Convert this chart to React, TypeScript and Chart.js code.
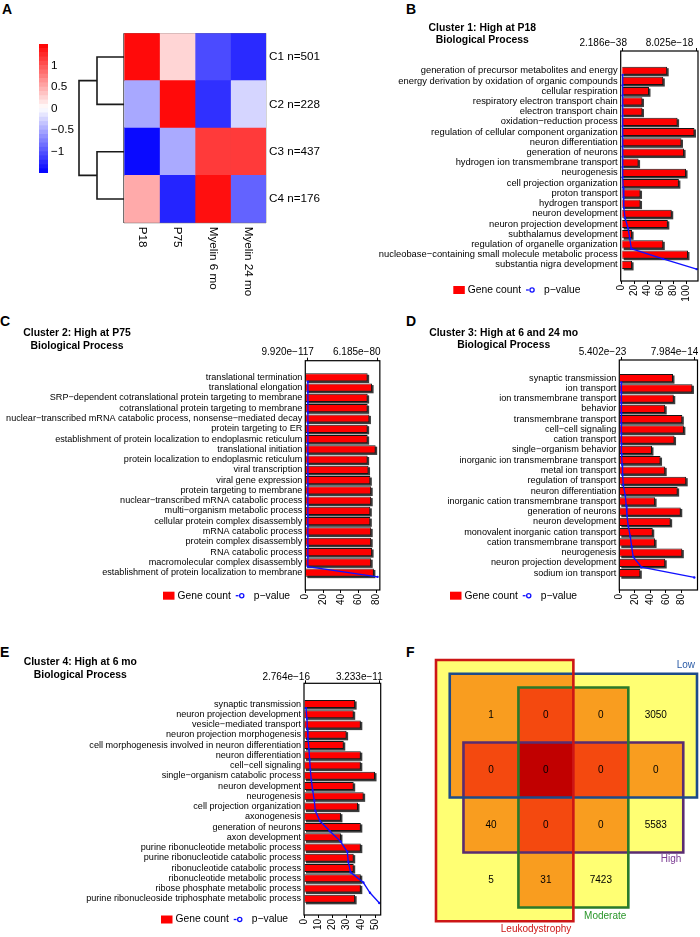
import React, { useEffect, useRef } from 'react';
import { Chart, registerables } from 'chart.js';

Chart.register(...registerables);

const FONT = "'Liberation Sans', Arial, Helvetica, sans-serif";
Chart.defaults.font.family = FONT;
Chart.defaults.color = '#000';
const MINUS = '\u2212';

// ---------------- Panel A data ----------------
const heatRowLabels = ['C1 n=501', 'C2 n=228', 'C3 n=437', 'C4 n=176'];
const heatColLabels = ['P18', 'P75', 'Myelin 6 mo', 'Myelin 24 mo'];
const heatC1 = [1.44, 0.25, -1.06, -1.25];
const heatC2 = [-0.51, 1.44, -1.22, -0.25];
const heatC3 = [-1.44, -0.5, 1.16, 1.16];
const heatC4 = [0.5, -1.29, 1.41, -0.92];
const heatValues = [heatC1, heatC2, heatC3, heatC4];
const colorbarTicks = [1, 0.5, 0, -0.5, -1];
const colorbarMin = -1.5;
const colorbarMax = 1.5;
const colorbarBins = 30;
const dendroPairHeights = [2.4, 2.4]; // (C1,C2) and (C3,C4)
const dendroRootHeight = 4;

// ---------------- Panel B data ----------------
const bTitle = ['Cluster 1: High at P18', 'Biological Process'];
const bCategories = [
  'generation of precursor metabolites and energy',
  'energy derivation by oxidation of organic compounds',
  'cellular respiration',
  'respiratory electron transport chain',
  'electron transport chain',
  'oxidation\u2212reduction process',
  'regulation of cellular component organization',
  'neuron differentiation',
  'generation of neurons',
  'hydrogen ion transmembrane transport',
  'neurogenesis',
  'cell projection organization',
  'proton transport',
  'hydrogen transport',
  'neuron development',
  'neuron projection development',
  'subthalamus development',
  'regulation of organelle organization',
  'nucleobase\u2212containing small molecule metabolic process',
  'substantia nigra development',
];
const bGeneCounts = [70, 64, 42, 32, 32, 86, 112, 92, 96, 26, 99, 88, 29, 29, 77, 71, 16, 64, 102, 16];
const bPValues = [2.186e-38, 5.3e-36, 1.1e-33, 4.2e-31, 9.8e-31, 3.6e-29, 2.2e-27, 8.9e-26, 3.0e-24, 6.4e-23,
  1.9e-21, 4.7e-20, 1.0e-19, 1.4e-19, 2.6e-19, 5.8e-19, 7.6e-19, 9.4e-19, 4.37e-18, 8.025e-18];
const bCountTicks = [0, 20, 40, 60, 80, 100];

// ---------------- Panel C data ----------------
const cTitle = ['Cluster 2: High at P75', 'Biological Process'];
const cCategories = [
  'translational termination',
  'translational elongation',
  'SRP\u2212dependent cotranslational protein targeting to membrane',
  'cotranslational protein targeting to membrane',
  'nuclear\u2212transcribed mRNA catabolic process, nonsense\u2212mediated decay',
  'protein targeting to ER',
  'establishment of protein localization to endoplasmic reticulum',
  'translational initiation',
  'protein localization to endoplasmic reticulum',
  'viral transcription',
  'viral gene expression',
  'protein targeting to membrane',
  'nuclear\u2212transcribed mRNA catabolic process',
  'multi\u2212organism metabolic process',
  'cellular protein complex disassembly',
  'mRNA catabolic process',
  'protein complex disassembly',
  'RNA catabolic process',
  'macromolecular complex disassembly',
  'establishment of protein localization to membrane',
];
const cGeneCounts = [70, 75, 70, 70, 72, 70, 70, 79, 70, 71, 73, 74, 74, 73, 73, 74, 74, 75, 74, 77];
const cPValues = [9.920e-117, 2.1e-115, 4.7e-114, 1.3e-113, 6.0e-112, 2.2e-111, 8.4e-110, 3.1e-108, 7.5e-107, 2.6e-105,
  9.1e-104, 4.4e-102, 1.7e-100, 6.3e-98, 2.9e-95, 1.1e-92, 5.6e-90, 3.2e-87, 1.4e-84, 6.185e-80];
const cCountTicks = [0, 20, 40, 60, 80];

// ---------------- Panel D data ----------------
const dTitle = ['Cluster 3: High at 6 and 24 mo', 'Biological Process'];
const dCategories = [
  'synaptic transmission',
  'ion transport',
  'ion transmembrane transport',
  'behavior',
  'transmembrane transport',
  'cell\u2212cell signaling',
  'cation transport',
  'single\u2212organism behavior',
  'inorganic ion transmembrane transport',
  'metal ion transport',
  'regulation of transport',
  'neuron differentiation',
  'inorganic cation transmembrane transport',
  'generation of neurons',
  'neuron development',
  'monovalent inorganic cation transport',
  'cation transmembrane transport',
  'neurogenesis',
  'neuron projection development',
  'sodium ion transport',
];
const dGeneCounts = [69, 94, 70, 59, 81, 83, 71, 42, 53, 59, 86, 75, 46, 79, 66, 43, 46, 81, 59, 27];
const dPValues = [5.402e-23, 3.1e-21, 8.7e-20, 1.9e-18, 2.6e-17, 1.5e-16, 3.9e-16, 6.8e-16, 1.04e-15, 1.44e-15,
  2.16e-15, 4.39e-15, 5.43e-15, 6.23e-15, 7.66e-15, 9.82e-15, 1.134e-14, 1.309e-14, 2.22e-14, 7.984e-14];
const dCountTicks = [0, 20, 40, 60, 80];

// ---------------- Panel E data ----------------
const eTitle = ['Cluster 4: High at 6 mo', 'Biological Process'];
const eCategories = [
  'synaptic transmission',
  'neuron projection development',
  'vesicle\u2212mediated transport',
  'neuron projection morphogenesis',
  'cell morphogenesis involved in neuron differentiation',
  'neuron differentiation',
  'cell\u2212cell signaling',
  'single\u2212organism catabolic process',
  'neuron development',
  'neurogenesis',
  'cell projection organization',
  'axonogenesis',
  'generation of neurons',
  'axon development',
  'purine ribonucleotide metabolic process',
  'purine ribonucleotide catabolic process',
  'ribonucleotide catabolic process',
  'ribonucleotide metabolic process',
  'ribose phosphate metabolic process',
  'purine ribonucleoside triphosphate metabolic process',
];
const eGeneCounts = [36, 35, 40, 30, 28, 40, 40, 50, 35, 42, 38, 26, 40, 26, 40, 35, 35, 40, 40, 36];
const ePValues = [2.764e-16, 4.4e-13, 5.9e-13, 8.8e-13, 1.32e-12, 1.62e-12, 1.91e-12, 2.35e-12, 2.94e-12, 3.67e-12,
  4.11e-12, 6.17e-12, 1.058e-11, 1.528e-11, 1.823e-11, 1.867e-11, 1.969e-11, 2.528e-11, 2.822e-11, 3.233e-11];
const eCountTicks = [0, 10, 20, 30, 40, 50];

const legendGene = 'Gene count';
const legendP = 'p\u2212value';

// ---------------- Panel F data ----------------
const vennSetNames = ['Leukodystrophy', 'Low', 'Moderate', 'High'];
const vennRow1 = [1, 0, 0, 3050];
const vennRow2 = [0, 0, 0, 0];
const vennRow3 = [40, 0, 0, 5583];
const vennRow4 = [5, 31, 7423, null];
const vennCounts = [vennRow1, vennRow2, vennRow3, vennRow4];

// ---------------- layout / style ----------------
type Rect = { x: number; y: number; w: number; h: number };
const LINE_SHIFT = 0.42;

// set rectangles in diagram units [x0, y0, x1, y1]
const VENN_RECTS: Record<string, number[]> = {
  Leukodystrophy: [0, 0, 2.5, 4.75],
  Low: [0.25, 0.25, 4.75, 2.5],
  Moderate: [1.5, 0.5, 3.5, 4.5],
  High: [0.5, 1.5, 4.5, 3.5],
};
const VENN_EXTENT = 4.75;
const VENN_LINE: Record<string, string> = {
  Leukodystrophy: '#cc1616', Low: '#1d4b8a', Moderate: '#2a7a2a', High: '#5a2c70',
};
const VENN_TEXT: Record<string, string> = {
  Leukodystrophy: '#cc1616', Low: '#2a5ba6', Moderate: '#2a962a', High: '#7a3a92',
};
const VENN_LABEL_DY: Record<string, number> = { Leukodystrophy: 8.3, Low: -9, Moderate: 8.3, High: 6.6 };
const VENN_FILLS = ['#ffff73', '#f99d1f', '#f4490f', '#c10000'];

function heatColor(v: number) {
  const t = Math.min(1, Math.abs(v) / 1.5);
  const c = Math.round(255 * (1 - t));
  return v >= 0 ? `rgb(255,${c},${c})` : `rgb(${c},${c},255)`;
}
function fmtP(v: number) {
  return v.toExponential(3).replace('-', MINUS);
}
function fmtSigned(v: number) {
  return v < 0 ? MINUS + String(Math.abs(v)) : String(v);
}

// ---------------- Panel A: heatmap ----------------
const HEAT_CANVAS: Rect = { x: 100, y: 20, w: 240, h: 290 };
const HEAT_AREA = { x0: 124, y0: 33.3, x1: 266, y1: 222.7 };

function heatConfig(): any {
  const c = HEAT_CANVAS, a = HEAT_AREA;
  const colPlugin = {
    id: 'heatCols',
    afterDraw(chart: any) {
      const { ctx, chartArea, scales } = chart;
      ctx.save();
      ctx.font = `11.7px ${FONT}`;
      ctx.fillStyle = '#000';
      ctx.textAlign = 'left';
      ctx.textBaseline = 'middle';
      heatColLabels.forEach((lab, j) => {
        const px = scales.x.getPixelForValue(j + 0.5);
        ctx.save();
        ctx.translate(px, chartArea.bottom + 4);
        ctx.rotate(Math.PI / 2);
        ctx.fillText(lab, 0, 0);
        ctx.restore();
      });
      ctx.restore();
    },
  };
  return {
    type: 'bar',
    data: {
      labels: heatRowLabels,
      datasets: heatColLabels.map((col, j) => ({
        label: col,
        data: heatRowLabels.map(() => [j, j + 1]),
        backgroundColor: heatValues.map((row) => heatColor(row[j])),
        borderWidth: 0,
        grouped: false,
        barPercentage: 1,
        categoryPercentage: 1,
      })),
    },
    options: {
      indexAxis: 'y',
      responsive: false,
      maintainAspectRatio: false,
      animation: false,
      events: [],
      layout: { padding: { left: a.x0 - c.x, top: a.y0 - c.y, right: 0, bottom: c.y + c.h - a.y1 } },
      plugins: { legend: { display: false }, tooltip: { enabled: false } },
      scales: {
        x: {
          type: 'linear', min: 0, max: heatColLabels.length, position: 'bottom', z: 1,
          ticks: { display: false, stepSize: 1 },
          grid: { display: true, drawTicks: false, color: '#727272', lineWidth: 1.3 },
          border: { display: false },
          afterFit: (s: any) => { s.height = 0; },
        },
        y: {
          type: 'category', position: 'right', offset: true, z: 1,
          ticks: { padding: 3, color: '#000', font: { size: 11.7 } },
          grid: { display: true, offset: true, drawTicks: false, color: '#727272', lineWidth: 1.3 },
          border: { display: false },
          afterFit: (s: any) => { s.width = c.x + c.w - a.x1; },
        },
      },
    },
    plugins: [colPlugin],
  };
}

const CBAR_CANVAS: Rect = { x: 30, y: 30, w: 70, h: 155 };
const CBAR_AREA = { x0: 39, y0: 44, x1: 48, y1: 173 };

function colorbarConfig(): any {
  const c = CBAR_CANVAS, a = CBAR_AREA;
  const step = (colorbarMax - colorbarMin) / colorbarBins;
  const bins: number[][] = [];
  for (let k = 0; k < colorbarBins; k++) bins.push([colorbarMin + k * step, colorbarMin + (k + 1) * step]);
  return {
    type: 'bar',
    data: {
      labels: [''],
      datasets: bins.map(([lo, hi]) => ({
        data: [[lo, hi]],
        backgroundColor: heatColor((lo + hi) / 2),
        borderWidth: 0,
        grouped: false,
        barPercentage: 1,
        categoryPercentage: 1,
      })),
    },
    options: {
      responsive: false, maintainAspectRatio: false, animation: false, events: [],
      layout: { padding: { left: a.x0 - c.x, top: a.y0 - c.y, right: 0, bottom: c.y + c.h - a.y1 } },
      plugins: { legend: { display: false }, tooltip: { enabled: false } },
      scales: {
        x: { display: false },
        y: {
          type: 'linear', position: 'right', min: colorbarMin, max: colorbarMax,
          afterBuildTicks: (s: any) => { s.ticks = colorbarTicks.map((v) => ({ value: v })); },
          afterFit: (s: any) => { s.width = c.x + c.w - a.x1; },
          ticks: { padding: 3, color: '#000', font: { size: 11.7 }, callback: (v: any) => fmtSigned(Number(v)) },
          grid: { display: false, drawTicks: false },
          border: { display: false },
        },
      },
    },
  };
}

const DENDRO_CANVAS: Rect = { x: 70, y: 23, w: 60, h: 210 };
const DENDRO_AREA = { x0: 79, y0: 33.3, x1: 124, y1: 222.7 };

function dendroConfig(): any {
  const c = DENDRO_CANVAS, a = DENDRO_AREA;
  const [h12, h34] = dendroPairHeights;
  const hr = dendroRootHeight;
  const leaf = (i: number) => i + 0.5;
  const segs = [
    [{ x: 0, y: leaf(0) }, { x: h12, y: leaf(0) }, { x: h12, y: leaf(1) }, { x: 0, y: leaf(1) }],
    [{ x: 0, y: leaf(2) }, { x: h34, y: leaf(2) }, { x: h34, y: leaf(3) }, { x: 0, y: leaf(3) }],
    [
      { x: h12, y: (leaf(0) + leaf(1)) / 2 }, { x: hr, y: (leaf(0) + leaf(1)) / 2 },
      { x: hr, y: (leaf(2) + leaf(3)) / 2 }, { x: h34, y: (leaf(2) + leaf(3)) / 2 },
    ],
  ];
  return {
    type: 'scatter',
    data: {
      datasets: segs.map((d) => ({
        data: d, showLine: true, borderColor: '#1a1a1a', borderWidth: 1.6, pointRadius: 0,
        clip: false, tension: 0, borderJoinStyle: 'miter',
      })),
    },
    options: {
      responsive: false, maintainAspectRatio: false, animation: false, events: [],
      layout: { padding: { left: a.x0 - c.x, top: a.y0 - c.y, right: c.x + c.w - a.x1, bottom: c.y + c.h - a.y1 } },
      plugins: { legend: { display: false }, tooltip: { enabled: false } },
      scales: {
        x: { type: 'linear', min: 0, max: hr, reverse: true, display: false },
        y: { type: 'linear', min: 0, max: heatRowLabels.length, reverse: true, display: false },
      },
    },
  };
}

// ---------------- GO bar panels ----------------
type GoPanel = {
  cats: string[]; counts: number[]; pvals: number[]; countTicks: number[];
  countMin: number; countMax: number;
  canvas: Rect; box: { x0: number; y0: number; x1: number; y1: number };
  rowRange: number[]; pPad: number[];
  title: string[]; titlePos: { x: number; y0: number; y1: number };
  legendPos: { x: number; y: number }; labelSize: number;
  pLabelDx: number[]; pLabelDy: number;
};

const PANEL_B: GoPanel = {
  cats: bCategories, counts: bGeneCounts, pvals: bPValues, countTicks: bCountTicks,
  countMin: -1.5, countMax: 117.4,
  canvas: { x: 350, y: 0, w: 350, h: 312 }, box: { x0: 620.7, y0: 51, x1: 698, y1: 281 },
  rowRange: [-0.37, 21.02], pPad: [0.027, 0.018],
  title: bTitle, titlePos: { x: 482.3, y0: 27.7, y1: 40.3 },
  legendPos: { x: 453.3, y: 290 }, labelSize: 9.4,
  pLabelDx: [4.3, -3.4], pLabelDy: -7.7,
};
const PANEL_C: GoPanel = {
  cats: cCategories, counts: cGeneCounts, pvals: cPValues, countTicks: cCountTicks,
  countMin: 0, countMax: 83.7,
  canvas: { x: 0, y: 300, w: 390, h: 312 }, box: { x0: 305.3, y0: 360.7, x1: 382.7, y1: 590 },
  rowRange: [-0.07, 21.14], pPad: [0.037, 0.033],
  title: cTitle, titlePos: { x: 77, y0: 333.3, y1: 345.7 },
  legendPos: { x: 163, y: 595.7 }, labelSize: 9.1,
  pLabelDx: [6, 3], pLabelDy: -8.5,
};
const PANEL_D: GoPanel = {
  cats: dCategories, counts: dGeneCounts, pvals: dPValues, countTicks: dCountTicks,
  countMin: 0, countMax: 100.5,
  canvas: { x: 350, y: 300, w: 350, h: 312 }, box: { x0: 619.3, y0: 360, x1: 697.5, y1: 590 },
  rowRange: [-0.2, 21.08], pPad: [0.027, 0.044],
  title: dTitle, titlePos: { x: 503.7, y0: 333.3, y1: 345 },
  legendPos: { x: 450, y: 595.7 }, labelSize: 9.15,
  pLabelDx: [5, 4], pLabelDy: -7.5,
};
const PANEL_E: GoPanel = {
  cats: eCategories, counts: eGeneCounts, pvals: ePValues, countTicks: eCountTicks,
  countMin: 0, countMax: 54,
  canvas: { x: 0, y: 600, w: 390, h: 337 }, box: { x0: 304, y0: 683.3, x1: 380.7, y1: 915 },
  rowRange: [-0.455, 21.02], pPad: [0.027, 0.019],
  title: eTitle, titlePos: { x: 80.3, y0: 662.3, y1: 675 },
  legendPos: { x: 161, y: 919.5 }, labelSize: 9.1,
  pLabelDx: [4, 3.4], pLabelDy: -6.3,
};

const barShadowPlugin = {
  id: 'barShadow',
  beforeDatasetDraw(chart: any, args: any) {
    const meta = args.meta;
    if (meta.type !== 'bar') return;
    const ctx = chart.ctx;
    ctx.save();
    ctx.fillStyle = '#3c3c3c';
    meta.data.forEach((el: any) => {
      const { x, y, base, height } = el.getProps(['x', 'y', 'base', 'height'], true);
      const left = Math.min(x, base);
      const w = Math.abs(x - base);
      ctx.fillRect(left + 1.5, y - height / 2 + 1.5, w, height);
    });
    ctx.restore();
  },
};

const boxPlugin = {
  id: 'plotBox',
  afterDatasetsDraw(chart: any) {
    const { ctx, chartArea: a } = chart;
    ctx.save();
    ctx.strokeStyle = '#000';
    ctx.lineWidth = 1.2;
    ctx.strokeRect(a.left, a.top, a.right - a.left, a.bottom - a.top);
    ctx.restore();
  },
};

function goConfig(p: GoPanel): any {
  const c = p.canvas, b = p.box;
  const left = b.x0 - c.x, top = b.y0 - c.y, bottom = c.y + c.h - b.y1, right = c.x + c.w - b.x1;
  const pmin = Math.min(...p.pvals), pmax = Math.max(...p.pvals), pr = pmax - pmin;

  const decor = {
    id: 'goDecor',
    afterDraw(chart: any) {
      const ctx = chart.ctx;
      const x2 = chart.scales.x2;
      ctx.save();
      // title
      ctx.fillStyle = '#000';
      ctx.textAlign = 'center';
      ctx.textBaseline = 'middle';
      ctx.font = `bold 10.4px ${FONT}`;
      ctx.fillText(p.title[0], p.titlePos.x - c.x, p.titlePos.y0 - c.y);
      ctx.fillText(p.title[1], p.titlePos.x - c.x, p.titlePos.y1 - c.y);
      // top axis (p-value) labels
      ctx.font = `10px ${FONT}`;
      ctx.textAlign = 'right';
      [pmin, pmax].forEach((v, k) => {
        ctx.fillText(fmtP(v), x2.getPixelForValue(v) + p.pLabelDx[k], top + p.pLabelDy);
      });
      // legend
      const lx = p.legendPos.x - c.x, ly = p.legendPos.y - c.y;
      ctx.fillStyle = '#ff0000';
      ctx.fillRect(lx, ly - 4, 11.5, 8);
      ctx.fillStyle = '#000';
      ctx.textAlign = 'left';
      ctx.font = `10.3px ${FONT}`;
      const t1 = lx + 14.5;
      ctx.fillText(legendGene, t1, ly);
      const dx = t1 + ctx.measureText(legendGene).width + 5;
      ctx.strokeStyle = '#1010ff';
      ctx.lineWidth = 1.3;
      ctx.beginPath(); ctx.moveTo(dx, ly); ctx.lineTo(dx + 2.8, ly); ctx.stroke();
      ctx.beginPath(); ctx.arc(dx + 6, ly, 2.1, 0, Math.PI * 2); ctx.stroke();
      ctx.fillText(legendP, dx + 18, ly);
      ctx.restore();
    },
  };

  return {
    type: 'bar',
    data: {
      datasets: [
        {
          type: 'line', label: legendP, indexAxis: 'y', xAxisID: 'x2', yAxisID: 'y',
          data: p.pvals.map((v, i) => ({ x: v, y: i + 1 + LINE_SHIFT })),
          borderColor: '#1010ff', backgroundColor: '#1010ff', borderWidth: 1.3,
          pointRadius: 1.2, pointBorderWidth: 0, pointHoverRadius: 0,
          order: 0, clip: false, tension: 0, fill: false,
        },
        {
          type: 'bar', label: legendGene, xAxisID: 'x', yAxisID: 'y',
          data: p.counts.map((v, i) => ({ x: v, y: i + 1 })),
          backgroundColor: '#ff0000', borderColor: '#151515', borderWidth: 1,
          barPercentage: 0.8, categoryPercentage: 1, order: 1,
        },
      ],
    },
    options: {
      indexAxis: 'y', responsive: false, maintainAspectRatio: false, animation: false, events: [],
      layout: { padding: { left: 0, top: 0, right, bottom: 0 } },
      plugins: { legend: { display: false }, tooltip: { enabled: false } },
      scales: {
        y: {
          type: 'linear', position: 'left', reverse: true, min: p.rowRange[0], max: p.rowRange[1],
          afterBuildTicks: (s: any) => { s.ticks = p.cats.map((_, i) => ({ value: i + 1 })); },
          afterFit: (s: any) => { s.width = left; },
          ticks: {
            autoSkip: false, padding: 3, color: '#000', font: { size: p.labelSize },
            callback: (v: any) => p.cats[Math.round(Number(v)) - 1] ?? '',
          },
          grid: { display: false, drawTicks: false },
          border: { display: false },
        },
        x: {
          type: 'linear', position: 'bottom', min: p.countMin, max: p.countMax,
          afterBuildTicks: (s: any) => { s.ticks = p.countTicks.map((v) => ({ value: v })); },
          afterFit: (s: any) => { s.height = bottom; },
          ticks: {
            autoSkip: false, minRotation: 90, maxRotation: 90, padding: 1, color: '#000',
            font: { size: 10 }, callback: (v: any) => String(v),
          },
          grid: { display: true, drawOnChartArea: false, drawTicks: true, tickLength: 3, color: '#000', lineWidth: 1 },
          border: { display: false },
        },
        x2: {
          type: 'linear', position: 'top', min: pmin - p.pPad[0] * pr, max: pmax + p.pPad[1] * pr,
          afterBuildTicks: (s: any) => { s.ticks = [{ value: pmin }, { value: pmax }]; },
          afterFit: (s: any) => { s.height = top; },
          ticks: { display: false },
          grid: { display: true, drawOnChartArea: false, drawTicks: true, tickLength: 3, color: '#000', lineWidth: 1 },
          border: { display: false },
        },
      },
    },
    plugins: [barShadowPlugin, boxPlugin, decor],
  };
}

// ---------------- Panel F: rectangle Venn ----------------
const VENN_CANVAS: Rect = { x: 420, y: 640, w: 280, h: 297 };
const VENN_AREA = { x0: 436, y0: 660, x1: 697, y1: 921.25 };

function vennConfig(): any {
  const c = VENN_CANVAS, a = VENN_AREA;
  const rects = vennSetNames.map((n) => VENN_RECTS[n]);
  const plugin = {
    id: 'vennDecor',
    beforeDatasetsDraw(chart: any) {
      const { ctx, scales } = chart;
      const xs = Array.from(new Set(rects.flatMap((r) => [r[0], r[2]]))).sort((p, q) => p - q);
      const ys = Array.from(new Set(rects.flatMap((r) => [r[1], r[3]]))).sort((p, q) => p - q);
      ctx.save();
      for (let i = 0; i < xs.length - 1; i++) {
        for (let j = 0; j < ys.length - 1; j++) {
          const cx = (xs[i] + xs[i + 1]) / 2, cy = (ys[j] + ys[j + 1]) / 2;
          const n = rects.filter((r) => cx > r[0] && cx < r[2] && cy > r[1] && cy < r[3]).length;
          if (!n) continue;
          const px0 = Math.round(scales.x.getPixelForValue(xs[i]));
          const px1 = Math.round(scales.x.getPixelForValue(xs[i + 1]));
          const py0 = Math.round(scales.y.getPixelForValue(ys[j]));
          const py1 = Math.round(scales.y.getPixelForValue(ys[j + 1]));
          ctx.fillStyle = VENN_FILLS[n - 1];
          ctx.fillRect(px0, py0, px1 - px0, py1 - py0);
        }
      }
      ctx.restore();
    },
    afterDatasetsDraw(chart: any) {
      const { ctx, scales } = chart;
      ctx.save();
      ctx.font = `10px ${FONT}`;
      ctx.fillStyle = '#000';
      ctx.textAlign = 'center';
      ctx.textBaseline = 'middle';
      vennCounts.forEach((row, r) => {
        row.forEach((v, col) => {
          if (v === null || v === undefined) return;
          ctx.fillText(String(v), scales.x.getPixelForValue(col + 1), scales.y.getPixelForValue(r + 1));
        });
      });
      ctx.textAlign = 'right';
      vennSetNames.forEach((name) => {
        const r = VENN_RECTS[name];
        const dy = VENN_LABEL_DY[name];
        const yEdge = dy < 0 ? r[1] : r[3];
        ctx.fillStyle = VENN_TEXT[name];
        ctx.fillText(name, scales.x.getPixelForValue(r[2]) - 2, scales.y.getPixelForValue(yEdge) + dy);
      });
      ctx.restore();
    },
  };
  return {
    type: 'scatter',
    data: {
      datasets: vennSetNames.map((name) => {
        const r = VENN_RECTS[name];
        return {
          label: name,
          data: [
            { x: r[0], y: r[1] }, { x: r[2], y: r[1] }, { x: r[2], y: r[3] },
            { x: r[0], y: r[3] }, { x: r[0], y: r[1] },
          ],
          showLine: true, borderColor: VENN_LINE[name], borderWidth: 2.6, pointRadius: 0,
          clip: false, tension: 0, borderCapStyle: 'square', borderJoinStyle: 'miter',
        };
      }),
    },
    options: {
      responsive: false, maintainAspectRatio: false, animation: false, events: [],
      layout: { padding: { left: a.x0 - c.x, top: a.y0 - c.y, right: c.x + c.w - a.x1, bottom: c.y + c.h - a.y1 } },
      plugins: { legend: { display: false }, tooltip: { enabled: false } },
      scales: {
        x: { type: 'linear', min: 0, max: VENN_EXTENT, display: false },
        y: { type: 'linear', min: 0, max: VENN_EXTENT, reverse: true, display: false },
      },
    },
    plugins: [plugin],
  };
}

// ---------------- components ----------------
function ChartBox({ rect, make }: { rect: Rect; make: () => any }) {
  const ref = useRef<HTMLCanvasElement | null>(null);
  useEffect(() => {
    if (!ref.current) return;
    const chart = new Chart(ref.current, make());
    return () => chart.destroy();
  }, []);
  return (
    <canvas
      ref={ref}
      width={rect.w}
      height={rect.h}
      style={{ position: 'absolute', left: rect.x, top: rect.y, width: rect.w, height: rect.h }}
    />
  );
}

const PANEL_LETTERS: [string, number, number][] = [
  ['A', 2, 1.5], ['B', 406, 1.5], ['C', 0, 314.3], ['D', 406, 313.5], ['E', 0, 645], ['F', 406, 645],
];

export default function App() {
  return (
    <div style={{ position: 'absolute', left: 0, top: 0, width: 700, height: 937, background: '#fff', overflow: 'hidden' }}>
      {PANEL_LETTERS.map(([t, x, y]) => (
        <div key={t} style={{ position: 'absolute', left: x, top: y, font: `bold 14px ${FONT}`, lineHeight: '14px', color: '#000' }}>{t}</div>
      ))}
      <ChartBox rect={HEAT_CANVAS} make={heatConfig} />
      <ChartBox rect={CBAR_CANVAS} make={colorbarConfig} />
      <ChartBox rect={DENDRO_CANVAS} make={dendroConfig} />
      <ChartBox rect={PANEL_B.canvas} make={() => goConfig(PANEL_B)} />
      <ChartBox rect={PANEL_C.canvas} make={() => goConfig(PANEL_C)} />
      <ChartBox rect={PANEL_D.canvas} make={() => goConfig(PANEL_D)} />
      <ChartBox rect={PANEL_E.canvas} make={() => goConfig(PANEL_E)} />
      <ChartBox rect={VENN_CANVAS} make={vennConfig} />
    </div>
  );
}
